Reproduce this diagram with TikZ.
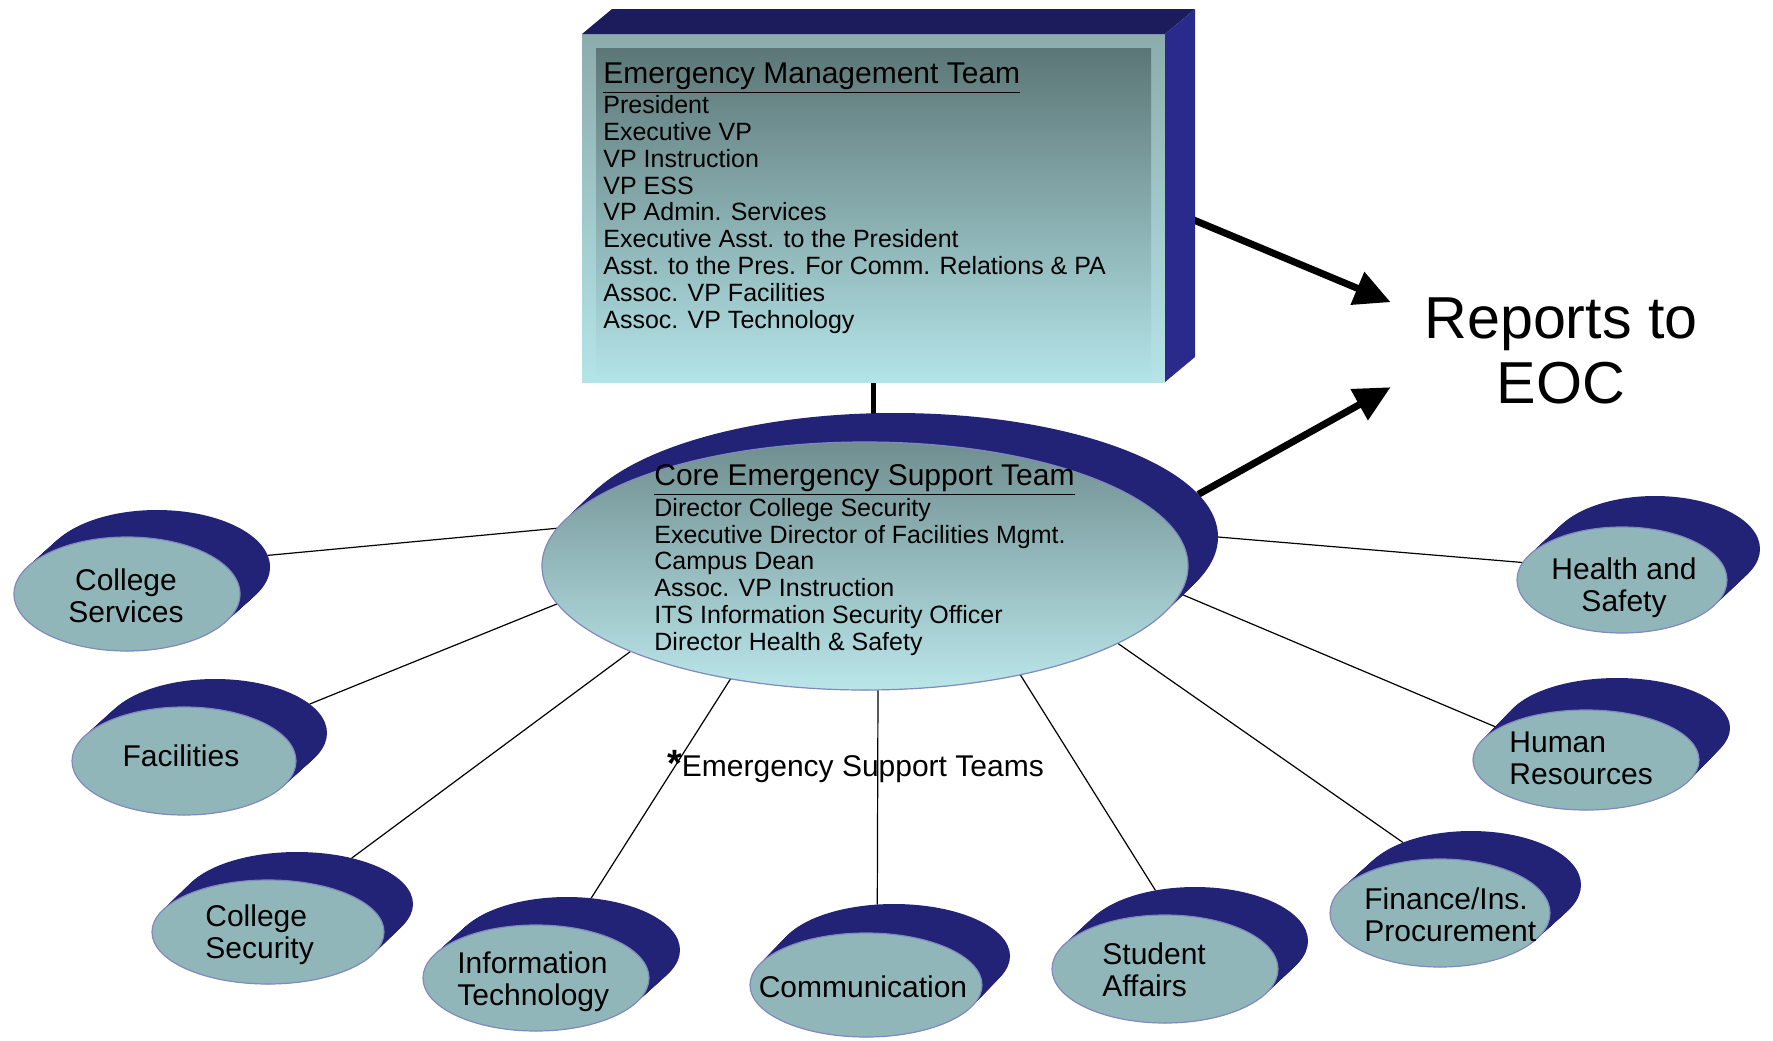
\documentclass[tikz,border=0pt]{standalone}
\usepackage{fontspec}
\setmainfont{Liberation Sans}
\usetikzlibrary{shapes.geometric,arrows.meta,calc}
\pgfdeclarelayer{bg}
\pgfdeclarelayer{background}
\pgfsetlayers{bg,background,main}

\definecolor{navy3d}{RGB}{34,34,118}
\definecolor{navytop}{RGB}{28,28,92}
\definecolor{navyside}{RGB}{42,42,140}
\definecolor{faceteal}{RGB}{145,182,186}
\definecolor{faceedge}{RGB}{128,138,188}
\definecolor{boxtop}{RGB}{92,118,118}
\definecolor{boxbot}{RGB}{180,228,232}
\definecolor{bevtop}{RGB}{140,172,172}
\definecolor{coretop}{RGB}{112,142,144}
\definecolor{corebot}{RGB}{186,230,234}

\tikzset{
  conn/.style={line width=0.6pt, draw=black},
  bigarrow/.style={line width=3.5pt, -{Triangle[length=18pt,width=17pt]}},
  stem/.style={line width=2.2pt},
  face/.style={ellipse, inner sep=0, outer sep=0, fill=faceteal, draw=faceedge, line width=0.6pt},
  coreface/.style={ellipse, inner sep=0, outer sep=0, top color=coretop, bottom color=corebot, draw=faceedge, line width=0.6pt},
  backell/.style={ellipse, inner sep=0, outer sep=0},
  lbl/.style={font=\fontsize{15}{15.85}\selectfont, inner sep=0},
  listtext/.style={font=\fontsize{12.5}{13.4}\selectfont, align=left, inner sep=0, anchor=north west},
}

% #1 name, #2 face style, #3 cx, #4 cy, #5 rx, #6 ry, #7 dx, #8 dy  (pixel units)
\newcommand\teamshape[8]{%
  \foreach \k in {0,...,24}{%
    \fill[navy3d] ({#3+(#7)*\k/24},{#4+(#8)*\k/24}) ellipse [x radius=#5*0.5pt, y radius=#6*0.5pt];
  }%
  \node[backell, minimum width=#5pt, minimum height=#6pt] (#1b) at ({#3+(#7)},{#4+(#8)}) {};
  \node[#2, minimum width=#5pt, minimum height=#6pt] (#1) at (#3,#4) {};
}

\begin{document}
\begin{tikzpicture}[x=0.5pt, y=-0.5pt]
\useasboundingbox (0,0) rectangle (1773,1040);
\begin{pgfonlayer}{bg}
  \fill[white] (0,0) rectangle (1773,1040);
\end{pgfonlayer}

% ---- Emergency Management Team box ----
\node[rectangle, inner sep=0, outer sep=0, minimum width=291.5pt, minimum height=174pt,
      top color=bevtop, bottom color=boxbot] (emt) at (873.5,208) {};
\fill[top color=boxtop, bottom color=boxbot] ($(emt.north west)+(14,14)$) rectangle ($(emt.south east)+(-14,0)$);
\fill[navytop] (emt.north west) -- ++(30,-25) -- ($(emt.north east)+(30,-25)$) -- (emt.north east) -- cycle;
\fill[navyside] (emt.north east) -- ++(30,-25) -- ($(emt.south east)+(30,-25)$) -- (emt.south east) -- cycle;
\node[listtext] (emtT) at (603,62) {{\fontsize{15}{15}\selectfont\underline{Emergency Management Team}}\\[0.2pt]
President\\
Executive VP\\
VP Instruction\\
VP ESS\\
VP Admin. Services\\
Executive Asst. to the President\\
Asst. to the Pres. For Comm. Relations \& PA\\
Assoc. VP Facilities\\
Assoc. VP Technology};

% ---- Core team ----
\teamshape{core}{coreface}{865}{566}{323}{124}{30}{-29}
\node[listtext] (coreT) at (654,464.5) {{\fontsize{15}{15}\selectfont\underline{Core Emergency Support Team}}\\[0pt]
Director College Security\\
Executive Director of Facilities Mgmt.\\
Campus Dean\\
Assoc. VP Instruction\\
ITS Information Security Officer\\
Director Health \& Safety};

% ---- Emergency support teams ----
\teamshape{cs}{face}{127}{594}{113}{57}{30}{-27}
\teamshape{fac}{face}{184}{761}{112}{54}{31}{-28}
\teamshape{csec}{face}{268}{932}{116}{52}{29}{-28}
\teamshape{it}{face}{536}{978}{113}{53}{31}{-28}
\teamshape{comm}{face}{866}{985}{116}{52}{28}{-29}
\teamshape{sa}{face}{1165}{969}{113}{54}{30}{-28}
\teamshape{fin}{face}{1440}{913}{110}{54}{31}{-28}
\teamshape{hr}{face}{1586}{760}{113}{50}{31}{-32}
\teamshape{hs}{face}{1622}{580}{105}{53}{33}{-31}

\node[lbl, align=center] (csT) at (126,596) {College\\Services};
\node[lbl] (facT) at (181,756) {Facilities};
\node[lbl, align=left, anchor=west] (csecT) at (205,935) {College\\Security};
\node[lbl, align=left, anchor=west] (itT) at (457,982) {Information\\Technology};
\node[lbl] (commT) at (863,987) {Communication};
\node[lbl, align=left, anchor=west] (saT) at (1102,970) {Student\\Affairs};
\node[lbl, align=left, anchor=west] (finT) at (1364,915) {Finance/Ins.\\Procurement};
\node[lbl, align=left, anchor=west] (hrT) at (1509,758) {Human\\Resources};
\node[lbl, align=center] (hsT) at (1624,588) {Health and\\Safety};

\node[lbl] (est) at (855.5,767) {{\fontsize{19}{19}\selectfont\textbf{*}}Emergency Support Teams};

% ---- Reports to EOC ----
\node[font=\fontsize{29.6}{32.5}\selectfont, align=center, minimum width=170pt, inner sep=0] (reports) at (1561,351) {Reports to\\EOC};

% ---- connectors (behind shapes) ----
\begin{pgfonlayer}{background}
  \draw[stem] (emt.south) -- (emt.south |- core.center);
  \draw[bigarrow] (emt.east) -- (reports.164.2);
  \draw[bigarrow] (coreb.8.5) -- (reports.192.8);
  \draw[conn] (core.173.6) -- (csb.6.5);
  \draw[conn] (core.187.6) -- (facb.17.9);
  \draw[conn] (core.200.8) -- (csecb.40.6);
  \draw[conn] (core.220) -- (itb.65.7);
  \draw[conn] (core.-84.5) -- (commb.108);
  \draw[conn] (core.-35) -- (sab.128);
  \draw[conn] (core.-17.4) -- (finb.148);
  \draw[conn] (core.-5) -- (hr.160.6);
  \draw[conn] (coreb.0.5) -- (hs.170);
\end{pgfonlayer}
\end{tikzpicture}
\end{document}
